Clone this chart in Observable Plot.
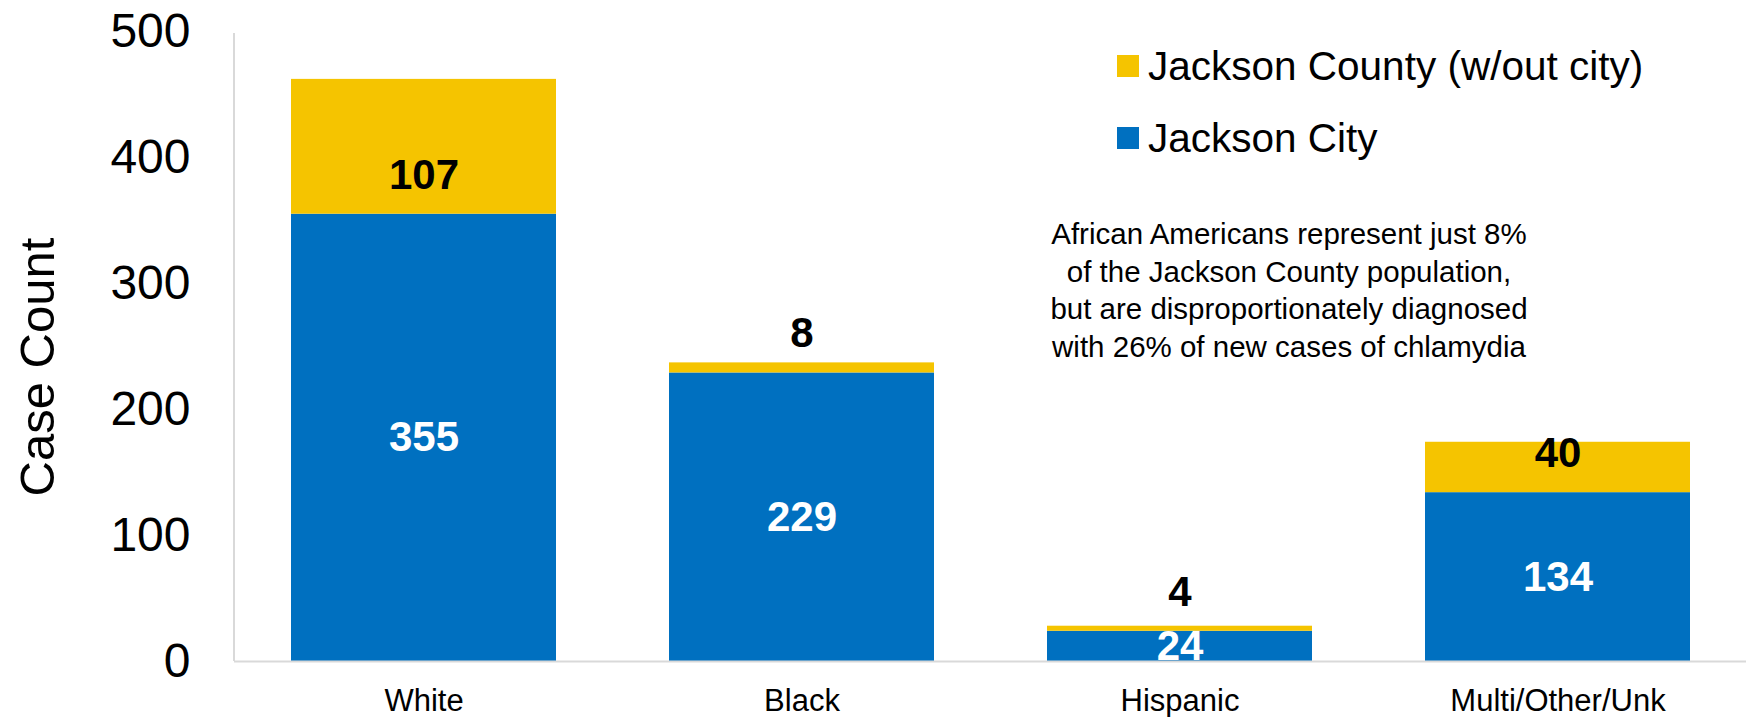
<!DOCTYPE html>
<html>
<head>
<meta charset="utf-8">
<script src="https://cdn.jsdelivr.net/npm/d3@7"></script>
<script src="https://cdn.jsdelivr.net/npm/@observablehq/plot@0.6"></script>
<style>
  html, body { margin: 0; padding: 0; background: #fff; }
  #wrap { position: relative; width: 1746px; height: 717px; font-family: "Liberation Sans", Arial, sans-serif; color: #000; }
  #wrap svg { display: block; }
  .legend-row { position: absolute; left: 1117px; display: flex; align-items: center; height: 22px; }
  .legend-row .sw { width: 22px; height: 22px; margin-right: 9px; flex: none; }
  .legend-row .lb { font-size: 40.5px; line-height: 1; white-space: nowrap; }
  #note { position: absolute; left: 989px; width: 600px; top: 215px; text-align: center; font-size: 29.5px; line-height: 37.5px; }
  #ylab { position: absolute; left: 37px; top: 367px; transform: translate(-50%, -50%) rotate(-90deg); font-size: 49px; white-space: nowrap; line-height: 1; }
</style>
</head>
<body>
<div id="wrap"></div>
<script>
// ---- data ----
const categories = ["White", "Black", "Hispanic", "Multi/Other/Unk"];
const seriesNames = ["Jackson City", "Jackson County (w/out city)"];
const cityValues = [355, 229, 24, 134];
const countyValues = [107, 8, 4, 40];
const seriesColors = ["#0070C0", "#F5C400"];
const yTicks = [0, 100, 200, 300, 400, 500];
const yLabel = "Case Count";
const noteLines = [
  "African Americans represent just 8%",
  "of the Jackson County population,",
  "but are disproportionately diagnosed",
  "with 26% of new cases of chlamydia"
];

// ---- table built from arrays ----
const table = [];
categories.forEach((c, i) => table.push({category: c, series: seriesNames[0], value: cityValues[i]}));
categories.forEach((c, i) => table.push({category: c, series: seriesNames[1], value: countyValues[i]}));

const cityLabels = categories.map((c, i) => ({category: c, y: cityValues[i] / 2, text: String(cityValues[i])}));
const countyLabels = categories.map((c, i) => ({category: c, y: cityValues[i] + 31, text: String(countyValues[i])}));

const axisLine = (index, scales, values, dimensions) => {
  const x = dimensions.marginLeft;
  return d3.create("svg:line")
    .attr("x1", x).attr("x2", x)
    .attr("y1", scales.y(yTicks[yTicks.length - 1]) + 2).attr("y2", scales.y(0))
    .attr("stroke", "#d9d9d9").attr("stroke-width", 2).node();
};

const chart = Plot.plot({
  width: 1746,
  height: 717,
  marginLeft: 234,
  marginRight: 0,
  marginTop: 31,
  marginBottom: 56,
  style: {fontFamily: "'Liberation Sans', Arial, sans-serif", background: "#fff", color: "#000"},
  x: {domain: categories, paddingInner: 0.3, paddingOuter: 0.15, label: null},
  y: {domain: [0, 500], label: null},
  color: {domain: seriesNames, range: seriesColors},
  marks: [
    Plot.barY(table, {x: "category", y: "value", fill: "series"}),
    Plot.ruleY([0], {stroke: "#d9d9d9", strokeWidth: 2}),
    axisLine,
    Plot.axisY({ticks: yTicks, tickSize: 0, tickPadding: 44, fontSize: 48, label: null}),
    Plot.axisX({tickSize: 0, tickPadding: 27, fontSize: 31, label: null}),
    Plot.text(cityLabels, {x: "category", y: "y", text: "text", fill: "#fff", fontSize: 42, fontWeight: "bold"}),
    Plot.text(countyLabels, {x: "category", y: "y", text: "text", fill: "#000", fontSize: 42, fontWeight: "bold"})
  ]
});

const wrap = document.getElementById("wrap");
wrap.appendChild(chart);

// legend (county on top, city below)
const legendOrder = [1, 0];
const legendTops = [55, 127];
legendOrder.forEach((si, k) => {
  const row = document.createElement("div");
  row.className = "legend-row";
  row.style.top = legendTops[k] + "px";
  const sw = document.createElement("div");
  sw.className = "sw";
  sw.style.background = seriesColors[si];
  const lb = document.createElement("div");
  lb.className = "lb";
  lb.textContent = seriesNames[si];
  row.appendChild(sw); row.appendChild(lb);
  wrap.appendChild(row);
});

const note = document.createElement("div");
note.id = "note";
note.innerHTML = noteLines.join("<br>");
wrap.appendChild(note);

const yl = document.createElement("div");
yl.id = "ylab";
yl.textContent = yLabel;
wrap.appendChild(yl);
</script>
</body>
</html>
